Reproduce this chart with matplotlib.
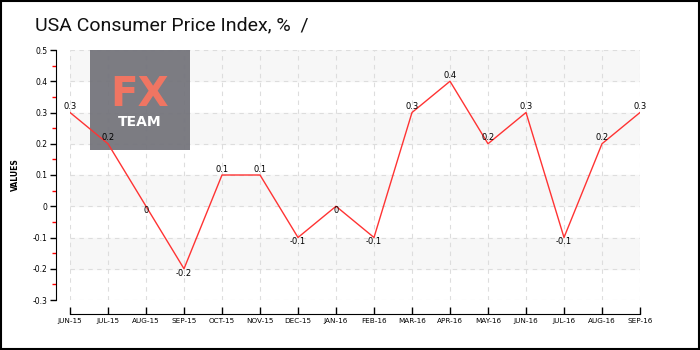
import matplotlib.pyplot as plt
from matplotlib.patches import Rectangle

# monthly CPI change, %
months = ['JUN-15', 'JUL-15', 'AUG-15', 'SEP-15', 'OCT-15', 'NOV-15', 'DEC-15', 'JAN-16',
          'FEB-16', 'MAR-16', 'APR-16', 'MAY-16', 'JUN-16', 'JUL-16', 'AUG-16', 'SEP-16']
values = [0.3, 0.2, 0, -0.2, 0.1, 0.1, -0.1, 0, -0.1, 0.3, 0.4, 0.2, 0.3, -0.1, 0.2, 0.3]
y_ticks = [-0.3, -0.2, -0.1, 0, 0.1, 0.2, 0.3, 0.4, 0.5]
y_tick_labels = ['-0.3', '-0.2', '-0.1', '0', '0.1', '0.2', '0.3', '0.4', '0.5']
bands = [(0.4, 0.5), (0.2, 0.3), (0.0, 0.1), (-0.2, -0.1)]

plt.rcParams['font.family'] = ['DejaVu Sans']

fig = plt.figure(figsize=(7, 3.5), dpi=100)
fig.patches.append(Rectangle((0.001, 0.002), 0.997, 0.995, transform=fig.transFigure,
                             fill=False, edgecolor='black', linewidth=1.5))

ax = fig.add_axes([70 / 700, 50 / 350, 570 / 700, 250 / 350])
x = list(range(len(months)))

for lo, hi in bands:
    ax.axhspan(lo, hi, color='#f7f7f7', zorder=0)

ax.grid(True, color='#dddddd', linestyle=(0, (4, 4)), linewidth=0.8, zorder=1)
ax.set_axisbelow(True)

# FX TEAM badge, sits under the series line
ax.add_patch(Rectangle((90 / 700, 1 - 150 / 350), 100 / 700, 100 / 350,
                       transform=fig.transFigure, facecolor='#75757c',
                       alpha=0.95, edgecolor='none', zorder=2))
ax.text(140 / 700, 1 - 95 / 350, 'FX', color='#f07562', fontsize=29,
        fontweight='bold', ha='center', va='center', transform=fig.transFigure,
        zorder=2.5)
ax.text(140 / 700, 1 - 122 / 350, 'TEAM', color='white', fontsize=10,
        fontweight='bold', ha='center', va='center', transform=fig.transFigure,
        zorder=2.5)

ax.plot(x, values, color='#ff3333', linewidth=1.0, zorder=3)

for xi, v in zip(x, values):
    lbl = '0' if v == 0 else f'{v:g}'
    if v > 0:
        ax.annotate(lbl, (xi, v), xytext=(0, 1), textcoords='offset points',
                    ha='center', va='bottom', fontsize=6, zorder=4)
    else:
        ax.annotate(lbl, (xi, v), xytext=(0, 0), textcoords='offset points',
                    ha='center', va='top', fontsize=6, zorder=4)

ax.set_xlim(0, len(months) - 1)
ax.set_ylim(-0.3, 0.5)
ax.set_xticks(x)
ax.set_xticklabels(months, fontweight='bold')
ax.set_yticks(y_ticks)
ax.set_yticklabels(y_tick_labels, fontweight='bold')
ax.set_yticks([-0.25, -0.15, -0.05, 0.05, 0.15, 0.25, 0.35, 0.45], minor=True)
ax.tick_params(axis='y', which='minor', length=3, color='red', width=1)
ax.tick_params(axis='y', which='major', length=4, width=1, pad=2, labelsize=5.5)
ax.tick_params(axis='x', which='major', direction='in', length=5, width=1, pad=3,
               labelsize=5.2)

for side in ('top', 'right'):
    ax.spines[side].set_visible(False)
ax.spines['left'].set_position(('outward', 10))
ax.spines['bottom'].set_position(('outward', 10))

ax.set_ylabel('VALUES', fontsize=5.5, fontweight='bold', labelpad=9)

fig.text(35 / 700, 1 - 25 / 350, 'USA Consumer Price Index, %  /', fontsize=14,
         family=['Roboto', 'DejaVu Sans'],
         ha='left', va='center', color='#111111')

fig.savefig('out.png', dpi=100)
